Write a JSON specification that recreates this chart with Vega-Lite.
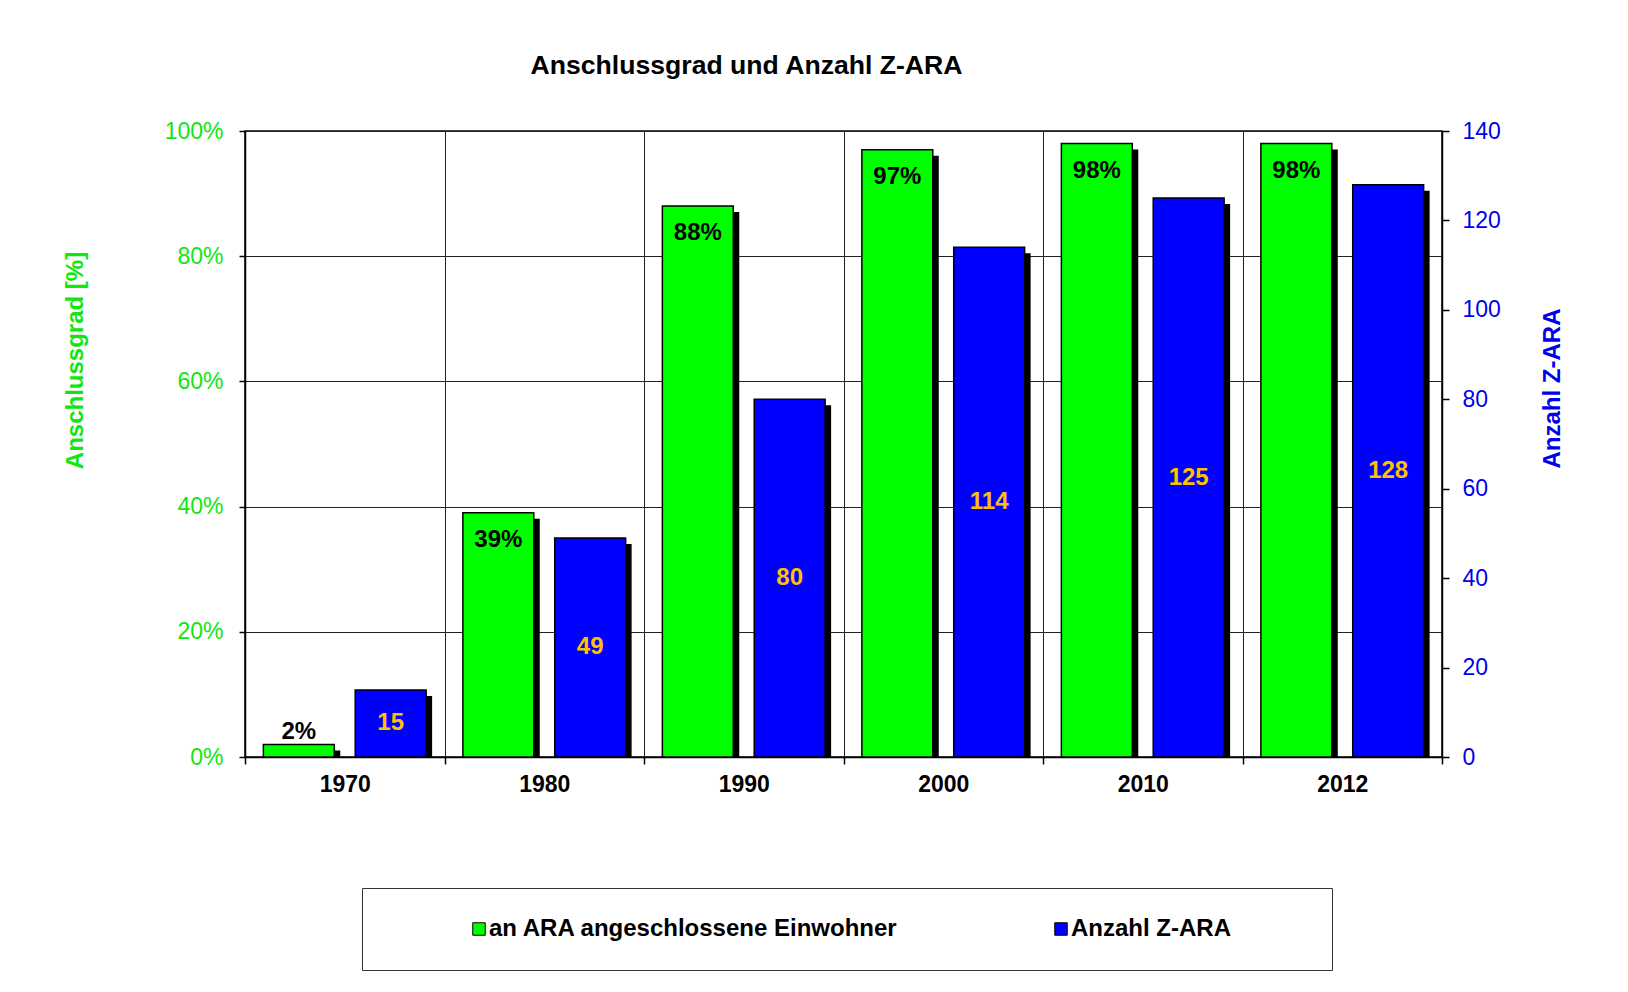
{
  "$schema": "https://vega.github.io/schema/vega-lite/v6.json",
  "autosize": {"type": "none"},
  "width": 1197,
  "height": 626,
  "padding": {"left": 245, "top": 131, "right": 186, "bottom": 235},
  "background": "white",
  "config": {
    "font": "Liberation Sans",
    "view": {"stroke": "black", "strokeWidth": 1.5}
  },
  "title": {
    "text": "Anschlussgrad und Anzahl Z-ARA",
    "font": "Liberation Sans",
    "fontSize": 26.6,
    "fontWeight": "bold",
    "color": "black",
    "anchor": "middle",
    "dx": -97,
    "offset": 40
  },
  "data": {
    "values": [
      {"year": "1970", "serie": "an ARA angeschlossene Einwohner", "value": 0.02},
      {"year": "1980", "serie": "an ARA angeschlossene Einwohner", "value": 0.39},
      {"year": "1990", "serie": "an ARA angeschlossene Einwohner", "value": 0.88},
      {"year": "2000", "serie": "an ARA angeschlossene Einwohner", "value": 0.97},
      {"year": "2010", "serie": "an ARA angeschlossene Einwohner", "value": 0.98},
      {"year": "2012", "serie": "an ARA angeschlossene Einwohner", "value": 0.98},
      {"year": "1970", "serie": "Anzahl Z-ARA", "value": 15},
      {"year": "1980", "serie": "Anzahl Z-ARA", "value": 49},
      {"year": "1990", "serie": "Anzahl Z-ARA", "value": 80},
      {"year": "2000", "serie": "Anzahl Z-ARA", "value": 114},
      {"year": "2010", "serie": "Anzahl Z-ARA", "value": 125},
      {"year": "2012", "serie": "Anzahl Z-ARA", "value": 128}
    ]
  },
  "encoding": {
    "x": {
      "field": "year",
      "type": "nominal",
      "title": null,
      "scale": {"paddingInner": 0, "paddingOuter": 0},
      "axis": {
        "labelAngle": 0,
        "labelFont": "Liberation Sans",
        "labelFontSize": 23,
        "labelFontWeight": "bold",
        "labelColor": "black",
        "labelPadding": 9,
        "tickBand": "extent",
        "tickSize": 7,
        "tickColor": "black",
        "tickWidth": 1.5,
        "domainColor": "black",
        "domainWidth": 1.5,
        "grid": true,
        "gridColor": "#222222",
        "gridWidth": 1
      }
    },
    "xOffset": {
      "field": "serie",
      "type": "nominal",
      "scale": {
        "type": "band",
        "domain": ["an ARA angeschlossene Einwohner", "Anzahl Z-ARA"],
        "paddingInner": 0.228,
        "paddingOuter": 0.2
      }
    }
  },
  "layer": [
    {
      "transform": [{"filter": "datum.serie == 'an ARA angeschlossene Einwohner'"}],
      "encoding": {
        "y": {
          "field": "value",
          "type": "quantitative",
          "stack": null,
          "scale": {"domain": [0, 1], "nice": false},
          "axis": {
            "orient": "left",
            "title": "Anschlussgrad [%]",
            "values": [0, 0.2, 0.4, 0.6, 0.8, 1],
            "format": ".0%",
            "labelFont": "Liberation Sans",
            "labelFontSize": 23,
            "labelColor": "#11E611",
            "labelPadding": 16,
            "tickSize": 6,
            "tickColor": "black",
            "tickWidth": 1.5,
            "domainColor": "black",
            "domainWidth": 1.5,
            "grid": true,
            "gridColor": "#222222",
            "gridWidth": 1,
            "titleFont": "Liberation Sans",
            "titleFontSize": 24,
            "titleFontWeight": "bold",
            "titleColor": "#11E611",
            "titleAngle": 270,
            "titleAlign": "center",
            "titleBaseline": "middle",
            "titleX": -170,
            "titleY": 229
          }
        }
      },
      "layer": [
        {
          "mark": {"type": "bar", "color": "black", "yOffset": 6},
          "encoding": {
            "xOffset": {
              "field": "serie",
              "type": "nominal",
              "scale": {
                "type": "band",
                "domain": ["an ARA angeschlossene Einwohner", "Anzahl Z-ARA"],
                "paddingInner": 0.228,
                "paddingOuter": 0.2,
                "align": 0.663
              }
            }
          }
        },
        {
          "mark": {"type": "bar", "stroke": "black", "strokeWidth": 1.5},
          "encoding": {
            "color": {
              "field": "serie",
              "type": "nominal",
              "scale": {
                "domain": ["an ARA angeschlossene Einwohner", "Anzahl Z-ARA"],
                "range": ["#00FF00", "#0000FF"]
              },
              "legend": {
                "orient": "none",
                "legendX": 117,
                "legendY": 757,
                "direction": "horizontal",
                "title": "\u00a0",
                "titleOrient": "right",
                "titlePadding": 72,
                "padding": 29,
                "strokeColor": "#333333",
                "symbolType": "square",
                "symbolSize": 156,
                "symbolStrokeColor": "black",
                "symbolStrokeWidth": 1,
                "symbolOffset": 76,
                "labelOffset": -2,
                "labelFont": "Liberation Sans",
                "labelFontSize": 24,
                "labelFontWeight": "bold",
                "labelColor": "black",
                "labelLimit": 600,
                "columnPadding": 74
              }
            }
          }
        },
        {
          "transform": [{"filter": "datum.value >= 0.1"}],
          "mark": {"type": "text", "font": "Liberation Sans", "fontSize": 24, "fontWeight": "bold", "color": "black", "baseline": "middle", "dy": 27},
          "encoding": {"text": {"field": "value", "type": "quantitative", "format": ".0%"}}
        },
        {
          "transform": [{"filter": "datum.value < 0.1"}],
          "mark": {"type": "text", "font": "Liberation Sans", "fontSize": 24, "fontWeight": "bold", "color": "black", "baseline": "middle", "dy": -12},
          "encoding": {"text": {"field": "value", "type": "quantitative", "format": ".0%"}}
        }
      ],
      "resolve": {"scale": {"xOffset": "independent"}}
    },
    {
      "transform": [{"filter": "datum.serie == 'Anzahl Z-ARA'"}],
      "layer": [
        {
          "encoding": {
            "y": {
              "field": "value",
              "type": "quantitative",
              "stack": null,
              "scale": {"domain": [0, 140], "nice": false},
              "axis": {
                "orient": "right",
                "title": "Anzahl Z-ARA",
                "values": [0, 20, 40, 60, 80, 100, 120, 140],
                "labelFont": "Liberation Sans",
                "labelFontSize": 23,
                "labelColor": "#0000EE",
                "labelPadding": 13,
                "tickSize": 7,
                "tickColor": "black",
                "tickWidth": 1.5,
                "domainColor": "black",
                "domainWidth": 1.5,
                "grid": false,
                "titleFont": "Liberation Sans",
                "titleFontSize": 24,
                "titleFontWeight": "bold",
                "titleColor": "#0000EE",
                "titleAngle": 270,
                "titleAlign": "center",
                "titleBaseline": "middle",
                "titleX": 110,
                "titleY": 257
              }
            }
          },
          "layer": [
            {
              "mark": {"type": "bar", "color": "black", "yOffset": 6},
              "encoding": {
                "xOffset": {
                  "field": "serie",
                  "type": "nominal",
                  "scale": {
                    "type": "band",
                    "domain": ["an ARA angeschlossene Einwohner", "Anzahl Z-ARA"],
                    "paddingInner": 0.228,
                    "paddingOuter": 0.2,
                    "align": 0.663
                  }
                }
              }
            },
            {
              "mark": {"type": "bar", "stroke": "black", "strokeWidth": 1.5},
              "encoding": {
                "color": {"field": "serie", "type": "nominal"}
              }
            }
          ],
          "resolve": {"scale": {"xOffset": "independent"}}
        },
        {
          "mark": {"type": "text", "font": "Liberation Sans", "fontSize": 24, "fontWeight": "bold", "color": "#FFC000", "baseline": "middle"},
          "encoding": {
            "y": {"field": "value", "type": "quantitative", "stack": null, "scale": {"domain": [0, 280], "nice": false}, "axis": null},
            "text": {"field": "value", "type": "quantitative"}
          }
        }
      ],
      "resolve": {"scale": {"y": "independent", "xOffset": "independent"}}
    }
  ],
  "resolve": {"scale": {"y": "independent", "xOffset": "independent"}}
}
